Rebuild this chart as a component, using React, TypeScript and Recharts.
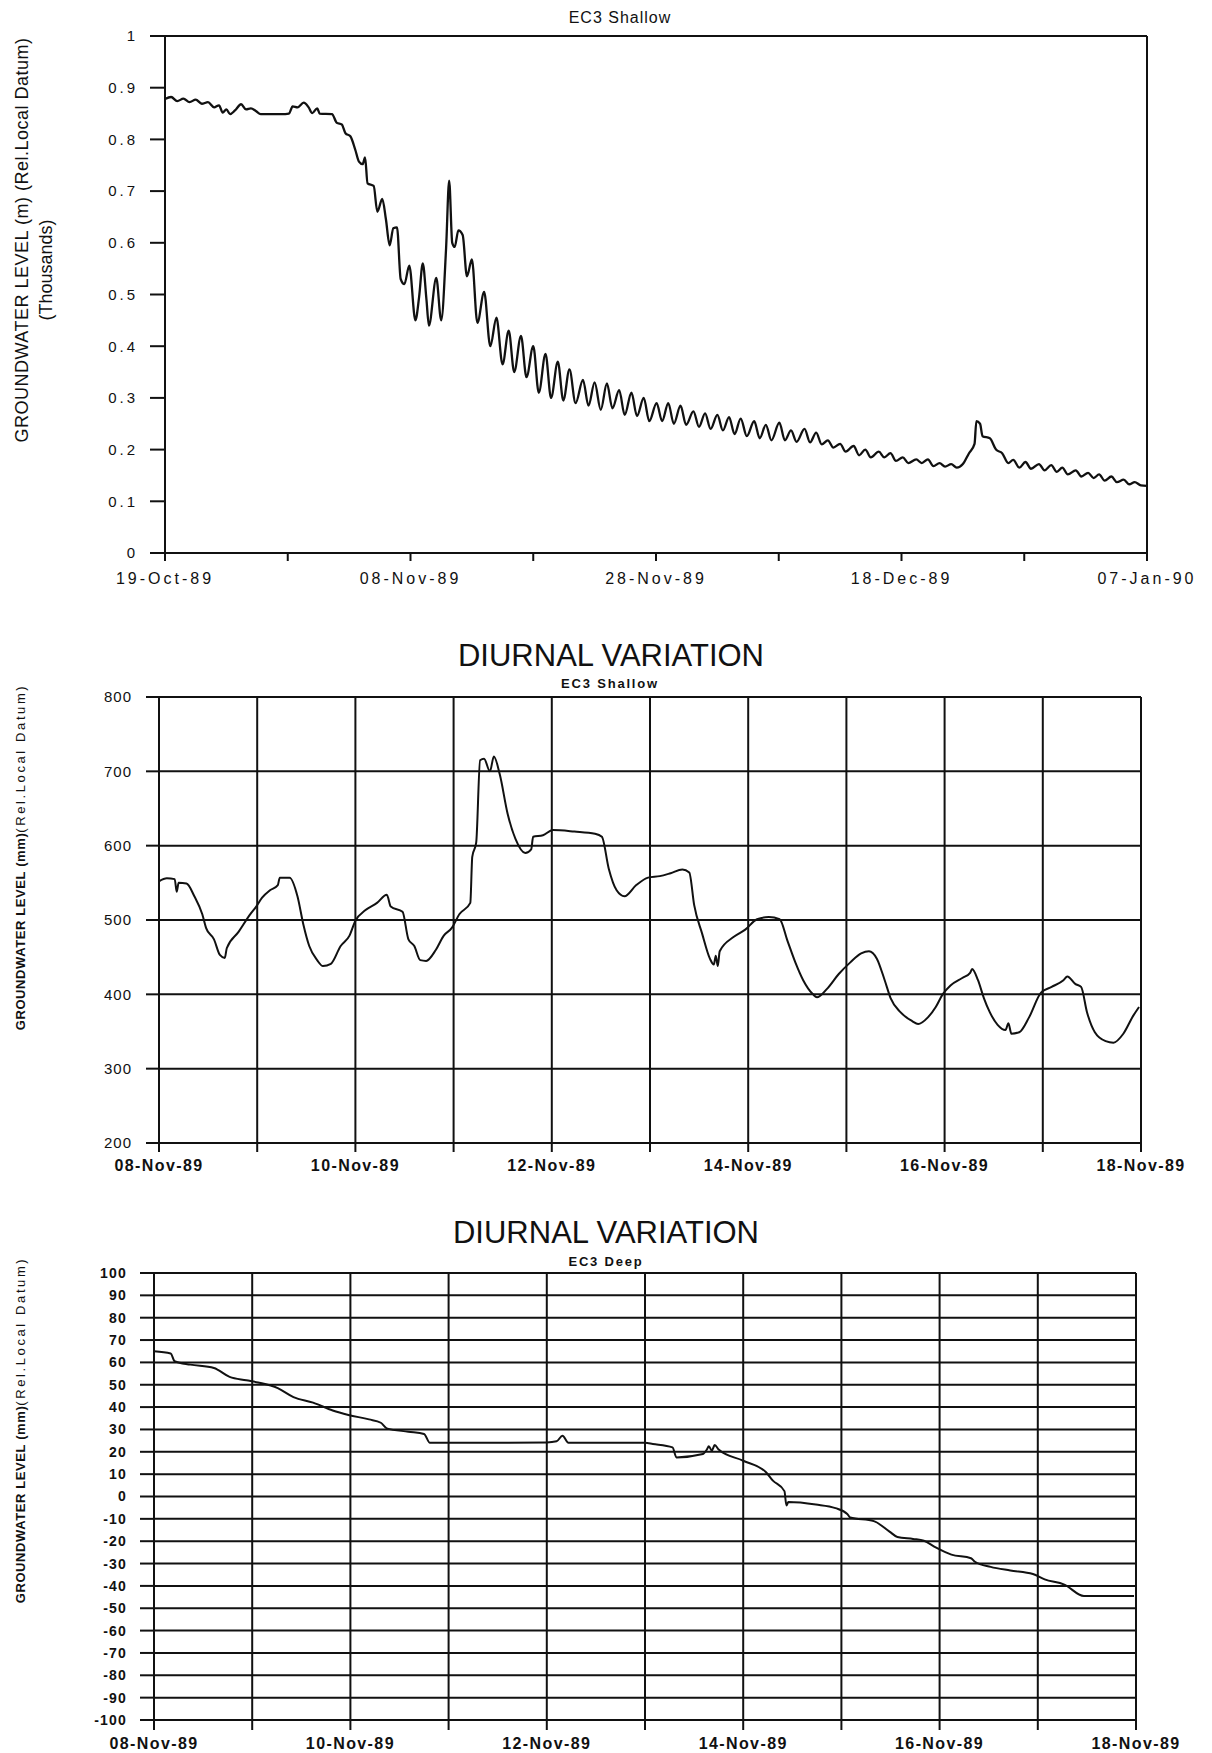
import { LineChart, Line, XAxis, YAxis, CartesianGrid, ReferenceLine } from 'recharts';

const INK = '#111';
const FONT = '"Liberation Sans", Arial, sans-serif';

// EC3 shallow, whole record: days after 19-Oct-89, level in thousands (m)
const seasonDays = [
  0, 0.5, 1, 1.5, 2, 2.5, 3, 3.5, 4, 4.4, 4.7, 5, 5.3, 5.7, 6.2, 6.6, 7, 7.4, 7.8, 8.5, 9.5,
  10.1, 10.4, 10.8, 11.3, 11.7, 12, 12.4, 12.6, 13.6, 14, 14.4, 14.7, 15.1, 15.5, 15.8, 16.1, 16.3,
  16.5, 17, 17.3, 17.7, 18, 18.3, 18.6, 18.9, 19.2, 19.5, 19.9, 20.4, 20.7, 21, 21.3, 21.5, 22.1,
  22.5, 22.9, 23.15, 23.4, 23.6, 23.9, 24.25, 24.6, 25, 25.45, 26, 26.5, 27, 27.5, 28, 28.45, 29,
  29.45, 30, 30.45, 31, 31.45, 32, 32.45, 32.95, 33.45, 34.05, 34.5, 35, 35.5, 36, 36.45, 37, 37.45,
  38, 38.45, 39, 39.45, 40.05, 40.5, 41, 41.45, 42, 42.45, 43.05, 43.5, 44, 44.45, 45, 45.45, 45.95,
  46.4, 46.9, 47.4, 48, 48.45, 48.95, 49.4, 50.05, 50.5, 51, 51.45, 52.1, 52.55, 53.05, 53.5, 54,
  54.45, 55, 55.45, 56.1, 56.55, 57.05, 57.5, 58.15, 58.6, 59.1, 59.55, 60.1, 60.55, 61.2, 61.65,
  62.15, 62.6, 63.1, 63.55, 64.05, 64.5, 65, 65.5, 65.95, 66.1, 66.4, 66.6, 67.2, 67.7, 68.2, 68.7,
  69.1, 69.6, 70.1, 70.55, 71.2, 71.65, 72.2, 72.65, 73.1, 73.55, 74.2, 74.65, 75.2, 75.65, 76.1,
  76.55, 77.1, 77.55, 78.1, 78.55, 79, 79.5, 80,
];
const seasonLevel = [
  0.878, 0.882, 0.874, 0.879, 0.872, 0.877, 0.869, 0.872, 0.862, 0.866, 0.852, 0.858, 0.849, 0.856,
  0.868, 0.858, 0.86, 0.855, 0.849, 0.849, 0.849, 0.85, 0.864, 0.862, 0.871, 0.862, 0.851, 0.86,
  0.85, 0.849, 0.832, 0.829, 0.812, 0.806, 0.78, 0.757, 0.752, 0.765, 0.715, 0.71, 0.66, 0.685,
  0.645, 0.595, 0.628, 0.63, 0.53, 0.52, 0.556, 0.45, 0.495, 0.56, 0.49, 0.44, 0.532, 0.45, 0.59,
  0.72, 0.6, 0.592, 0.624, 0.615, 0.535, 0.568, 0.445, 0.505, 0.4, 0.455, 0.365, 0.43, 0.35, 0.42,
  0.34, 0.4, 0.31, 0.385, 0.3, 0.37, 0.295, 0.355, 0.29, 0.335, 0.285, 0.33, 0.277, 0.328, 0.28,
  0.315, 0.267, 0.31, 0.265, 0.3, 0.255, 0.29, 0.255, 0.29, 0.25, 0.285, 0.248, 0.274, 0.244, 0.27,
  0.24, 0.267, 0.237, 0.263, 0.23, 0.26, 0.226, 0.255, 0.222, 0.248, 0.218, 0.252, 0.218, 0.237,
  0.215, 0.24, 0.214, 0.233, 0.21, 0.218, 0.204, 0.211, 0.196, 0.207, 0.189, 0.2, 0.185, 0.196,
  0.185, 0.193, 0.178, 0.185, 0.174, 0.181, 0.174, 0.181, 0.168, 0.174, 0.167, 0.172, 0.165, 0.172,
  0.193, 0.211, 0.255, 0.25, 0.226, 0.222, 0.2, 0.193, 0.174, 0.18, 0.165, 0.176, 0.163, 0.172,
  0.16, 0.17, 0.157, 0.165, 0.152, 0.16, 0.148, 0.155, 0.145, 0.152, 0.14, 0.148, 0.137, 0.142,
  0.133, 0.137, 0.131, 0.13,
];
const seasonTicks = [0, 10, 20, 30, 40, 50, 60, 70, 80];
const seasonTickLabels = ['19-Oct-89', '', '08-Nov-89', '', '28-Nov-89', '', '18-Dec-89', '', '07-Jan-90'];
const levelTicks = [0, 0.1, 0.2, 0.3, 0.4, 0.5, 0.6, 0.7, 0.8, 0.9, 1];
const levelTickLabels = ['0', '0.1', '0.2', '0.3', '0.4', '0.5', '0.6', '0.7', '0.8', '0.9', '1'];

// diurnal window 08-Nov-89 .. 18-Nov-89: days after 08-Nov
const dayTicks = [0, 1, 2, 3, 4, 5, 6, 7, 8, 9, 10];
const dayTickLabels = ['08-Nov-89', '', '10-Nov-89', '', '12-Nov-89', '', '14-Nov-89', '', '16-Nov-89', '', '18-Nov-89'];

// EC3 shallow, mm
const shallowDays = [
  0, 0.08, 0.16, 0.18, 0.2, 0.28, 0.36, 0.44, 0.48, 0.56, 0.62, 0.67, 0.69, 0.81, 0.93, 0.99, 1.05,
  1.13, 1.21, 1.23, 1.33, 1.41, 1.47, 1.53, 1.61, 1.67, 1.75, 1.85, 1.94, 2, 2.1, 2.22, 2.32, 2.36,
  2.48, 2.54, 2.6, 2.66, 2.72, 2.82, 2.9, 2.98, 3.06, 3.17, 3.19, 3.23, 3.27, 3.31, 3.37, 3.41, 3.47,
  3.55, 3.63, 3.73, 3.79, 3.81, 3.91, 4.01, 4.23, 4.44, 4.51, 4.58, 4.66, 4.74, 4.86, 4.98, 5.1,
  5.21, 5.33, 5.4, 5.45, 5.53, 5.61, 5.65, 5.67, 5.69, 5.71, 5.85, 5.97, 6.09, 6.21, 6.32, 6.4, 6.48,
  6.56, 6.66, 6.7, 6.8, 6.92, 7.04, 7.15, 7.23, 7.31, 7.39, 7.45, 7.55, 7.67, 7.73, 7.83, 7.91, 7.98,
  8.06, 8.18, 8.26, 8.28, 8.34, 8.4, 8.46, 8.54, 8.62, 8.65, 8.68, 8.76, 8.86, 8.98, 9.09, 9.21,
  9.25, 9.33, 9.39, 9.45, 9.53, 9.64, 9.72, 9.82, 9.92, 9.98,
];
const shallowMm = [
  552, 556, 555, 538, 550, 549, 532, 508, 489, 474, 453, 449, 462, 484, 508, 518, 530, 540, 547, 557,
  557, 532, 494, 465, 446, 438, 441, 465, 479, 499, 513, 523, 534, 518, 511, 474, 465, 446, 445, 460,
  479, 489, 508, 523, 585, 604, 715, 717, 700, 720, 696, 643, 609, 590, 595, 612, 614, 621, 619, 616,
  612, 569, 540, 532, 547, 557, 559, 563, 568, 564, 520, 482, 448, 440, 452, 438, 458, 477, 487, 501,
  504, 501, 472, 443, 419, 400, 396, 407, 427, 443, 455, 458, 448, 419, 395, 376, 364, 360, 369, 383,
  400, 412, 422, 429, 434, 419, 395, 376, 359, 352, 361, 347, 349, 369, 402, 410, 419, 424, 414, 410,
  376, 349, 337, 335, 347, 371, 383,
];
const shallowMmTicks = [200, 300, 400, 500, 600, 700, 800];

// EC3 deep, mm
const deepDays = [
  0, 0.17, 0.21, 0.37, 0.61, 0.77, 0.94, 1.06, 1.26, 1.42, 1.62, 1.82, 1.98, 2.19, 2.31, 2.37, 2.59,
  2.75, 2.81, 3, 3.5, 4, 4.1, 4.16, 4.22, 4.6, 5, 5.08, 5.28, 5.32, 5.59, 5.63, 5.65, 5.68, 5.71,
  5.75, 6, 6.23, 6.3, 6.42, 6.44, 6.46, 6.74, 6.94, 7.06, 7.09, 7.33, 7.49, 7.57, 7.73, 7.84, 7.96,
  8.12, 8.32, 8.36, 8.52, 8.72, 8.95, 9.07, 9.27, 9.47, 9.98,
];
const deepMm = [
  65, 64, 60.5, 59, 57.5, 53.5, 52, 51, 48.5, 44.5, 42, 38.5, 36.5, 34.5, 33, 30.5, 29, 28, 24, 24,
  24, 24.2, 24.7, 27.2, 24, 24, 24, 23.5, 22, 17.5, 19, 21, 22.5, 20.5, 23, 21, 16, 11, 7.2, 2.4, -4,
  -2.5, -3.6, -5.2, -7.8, -9.4, -11, -15.7, -18.1, -19, -19.8, -22.8, -26, -27.6, -29.2, -31.5,
  -33.1, -34.7, -37.1, -39.4, -44.5, -44.5,
];
const deepMmTicks = [
  -100, -90, -80, -70, -60, -50, -40, -30, -20, -10, 0, 10, 20, 30, 40, 50, 60, 70, 80, 90, 100,
];

const seasonData = seasonDays.map((day, i) => ({ day, level: seasonLevel[i] }));
const shallowData = shallowDays.map((day, i) => ({ day, level: shallowMm[i] }));
const deepData = deepDays.map((day, i) => ({ day, level: deepMm[i] }));

type TickOpts = {
  side: 'left' | 'bottom';
  size: number;
  weight?: string;
  spacing?: number;
  ticks: number[];
  labels: string[];
};

// plain svg tick text so spacing/weight match the plotter lettering
function makeTick(o: TickOpts) {
  return (p: any) => {
    const text = o.labels[o.ticks.indexOf(p.payload.value)] ?? '';
    if (!text) return <g />;
    const bottom = o.side === 'bottom';
    return (
      <text
        x={p.x}
        y={p.y}
        dy={bottom ? '0.71em' : '0.355em'}
        textAnchor={bottom ? 'middle' : 'end'}
        fill={INK}
        fontFamily={FONT}
        fontSize={o.size}
        fontWeight={o.weight ?? 'normal'}
        letterSpacing={o.spacing ?? 0}
      >
        {text}
      </text>
    );
  };
}

const axisLine = { stroke: INK, strokeWidth: 2 };

function SeasonChart() {
  return (
    <LineChart width={1212} height={600} data={seasonData} margin={{ top: 36, right: 65, bottom: 7, left: 105 }}>
      <XAxis
        type="number"
        dataKey="day"
        domain={[0, 80]}
        ticks={seasonTicks}
        interval={0}
        height={40}
        tickSize={8}
        tickMargin={12}
        axisLine={axisLine}
        tickLine={axisLine}
        tick={makeTick({ side: 'bottom', size: 16, spacing: 3, ticks: seasonTicks, labels: seasonTickLabels })}
      />
      <YAxis
        type="number"
        domain={[0, 1]}
        ticks={levelTicks}
        interval={0}
        width={60}
        tickSize={15}
        tickMargin={12}
        axisLine={axisLine}
        tickLine={axisLine}
        tick={makeTick({ side: 'left', size: 15, spacing: 3, ticks: levelTicks, labels: levelTickLabels })}
      />
      <ReferenceLine y={1} stroke={INK} strokeWidth={2} />
      <ReferenceLine x={80} stroke={INK} strokeWidth={2} />
      <Line type="monotone" dataKey="level" stroke={INK} strokeWidth={2.3} dot={false} activeDot={false} isAnimationActive={false} />
    </LineChart>
  );
}

function DiurnalChart(props: {
  data: { day: number; level: number }[];
  yTicks: number[];
  height: number;
  margin: { top: number; right: number; bottom: number; left: number };
  yTickSize: number;
  yTickMargin: number;
  yFont: { size: number; weight?: string; spacing: number };
  xTickSize: number;
}) {
  const { data, yTicks, height, margin, yFont } = props;
  const yLabels = yTicks.map((v) => String(v));
  return (
    <LineChart width={1212} height={height} data={data} margin={margin}>
      <CartesianGrid stroke={INK} strokeWidth={2} />
      <XAxis
        type="number"
        dataKey="day"
        domain={[0, 10]}
        ticks={dayTicks}
        interval={0}
        height={30}
        tickSize={props.xTickSize}
        tickMargin={8}
        axisLine={axisLine}
        tickLine={axisLine}
        tick={makeTick({ side: 'bottom', size: 16, weight: 'bold', spacing: 1.4, ticks: dayTicks, labels: dayTickLabels })}
      />
      <YAxis
        type="number"
        domain={[yTicks[0], yTicks[yTicks.length - 1]]}
        ticks={yTicks}
        interval={0}
        width={60}
        tickSize={props.yTickSize}
        tickMargin={props.yTickMargin}
        axisLine={axisLine}
        tickLine={axisLine}
        tick={makeTick({ side: 'left', size: yFont.size, weight: yFont.weight, spacing: yFont.spacing, ticks: yTicks, labels: yLabels })}
      />
      <ReferenceLine y={yTicks[yTicks.length - 1]} stroke={INK} strokeWidth={2} />
      <ReferenceLine x={10} stroke={INK} strokeWidth={2} />
      <Line type="monotone" dataKey="level" stroke={INK} strokeWidth={2} dot={false} activeDot={false} isAnimationActive={false} />
    </LineChart>
  );
}

// rotated axis title, centred on (cx, cy)
function SideTitle({ cx, cy, children }: { cx: number; cy: number; children: React.ReactNode }) {
  return (
    <g transform={`translate(${cx},${cy}) rotate(-90)`}>
      <text x={0} y={6} textAnchor="middle" fill={INK} fontFamily={FONT}>
        {children}
      </text>
    </g>
  );
}

function DiurnalSideTitle({ cx, cy }: { cx: number; cy: number }) {
  return (
    <SideTitle cx={cx} cy={cy}>
      <tspan fontSize={13} fontWeight="bold" letterSpacing={0.6}>GROUNDWATER LEVEL (mm)</tspan>
      <tspan fontSize={13} letterSpacing={2.6}>(Rel.Local Datum)</tspan>
    </SideTitle>
  );
}

export default function App() {
  return (
    <div style={{ position: 'absolute', left: 0, top: 0, width: 1212, height: 1753, background: '#fff', overflow: 'hidden' }}>
      <div style={{ position: 'absolute', left: 0, top: 0 }}>
        <SeasonChart />
      </div>
      <div style={{ position: 'absolute', left: 0, top: 640 }}>
        <DiurnalChart
          data={shallowData}
          yTicks={shallowMmTicks}
          height={540}
          margin={{ top: 57, right: 71, bottom: 7, left: 99 }}
          yTickSize={13}
          yTickMargin={14}
          yFont={{ size: 15, spacing: 1 }}
          xTickSize={9}
        />
      </div>
      <div style={{ position: 'absolute', left: 0, top: 1220 }}>
        <DiurnalChart
          data={deepData}
          yTicks={deepMmTicks}
          height={533}
          margin={{ top: 53, right: 76, bottom: 3, left: 94 }}
          yTickSize={14}
          yTickMargin={13}
          yFont={{ size: 14, weight: 'bold', spacing: 1.2 }}
          xTickSize={10}
        />
      </div>

      <svg width={1212} height={1753} style={{ position: 'absolute', left: 0, top: 0, pointerEvents: 'none' }}>
        <text x={620} y={23} textAnchor="middle" fill={INK} fontFamily={FONT} fontSize={16} letterSpacing={1}>
          EC3 Shallow
        </text>
        <SideTitle cx={22} cy={240}>
          <tspan fontSize={18} letterSpacing={0.5}>GROUNDWATER LEVEL (m) (Rel.Local Datum)</tspan>
        </SideTitle>
        <SideTitle cx={46} cy={270}>
          <tspan fontSize={18}>(Thousands)</tspan>
        </SideTitle>

        <text x={611} y={666} textAnchor="middle" fill={INK} fontFamily={FONT} fontSize={31}>
          DIURNAL VARIATION
        </text>
        <text x={610} y={688} textAnchor="middle" fill={INK} fontFamily={FONT} fontSize={13} fontWeight="bold" letterSpacing={1.8}>
          EC3 Shallow
        </text>
        <DiurnalSideTitle cx={19} cy={857} />

        <text x={606} y={1243} textAnchor="middle" fill={INK} fontFamily={FONT} fontSize={31}>
          DIURNAL VARIATION
        </text>
        <text x={606} y={1266} textAnchor="middle" fill={INK} fontFamily={FONT} fontSize={13} fontWeight="bold" letterSpacing={1.8}>
          EC3 Deep
        </text>
        <DiurnalSideTitle cx={19} cy={1430} />
      </svg>
    </div>
  );
}
